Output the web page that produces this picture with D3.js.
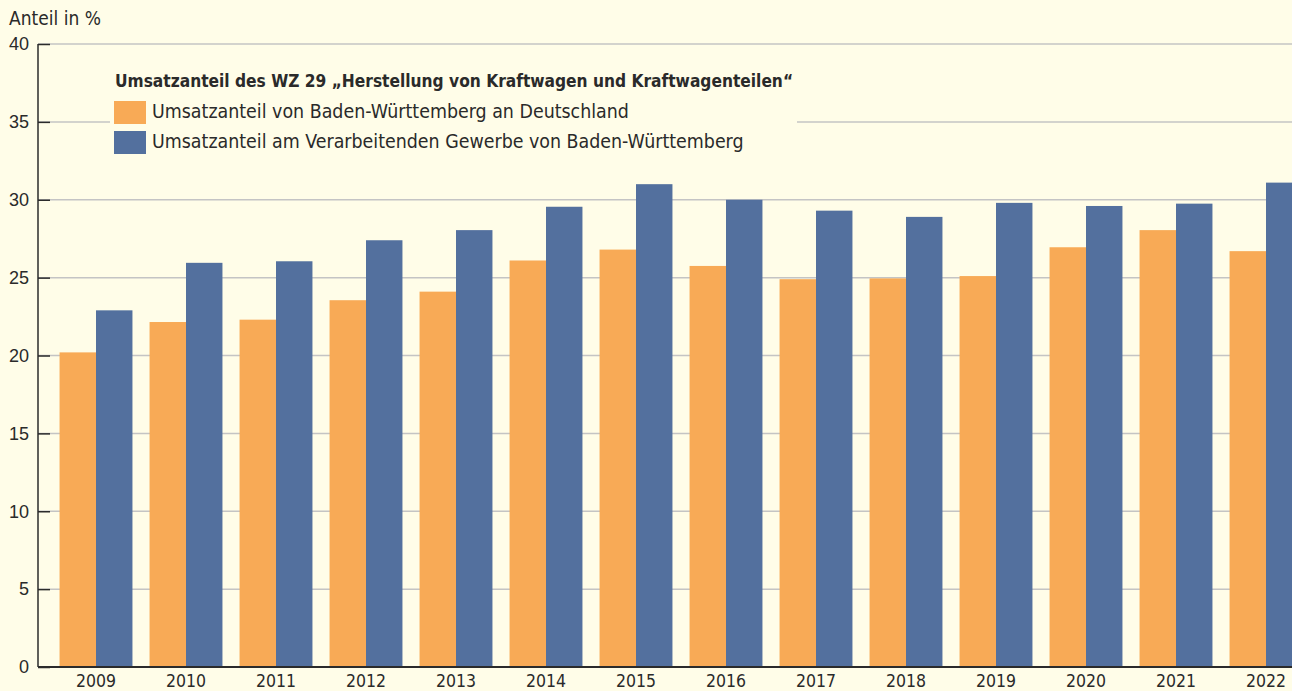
<!DOCTYPE html>
<html>
<head>
<meta charset="utf-8">
<script src="https://cdn.jsdelivr.net/npm/d3@7"></script>
<style>
  body { margin: 0; background: #fffde8; }
  svg { display: block; font-family: "Liberation Sans Narrow", "DejaVu Sans Condensed", sans-serif; }
</style>
</head>
<body>
<script>
const svgWidth = 1292,
    svgHeight = 691;

// data
const years = ["2009", "2010", "2011", "2012", "2013", "2014", "2015", "2016", "2017", "2018", "2019", "2020", "2021", "2022"];
const anteilDeutschland = [20.2, 22.15, 22.3, 23.55, 24.1, 26.1, 26.8, 25.75, 24.9, 24.95, 25.1, 26.95, 28.05, 26.7];
const anteilVerarbeitend = [22.9, 25.95, 26.05, 27.4, 28.05, 29.55, 31.0, 30.0, 29.3, 28.9, 29.8, 29.6, 29.75, 31.1];
const yTicks = [0, 5, 10, 15, 20, 25, 30, 35, 40];
const series = [
    { name: "Umsatzanteil von Baden-Württemberg an Deutschland", values: anteilDeutschland, color: "#f8aa56" },
    { name: "Umsatzanteil am Verarbeitenden Gewerbe von Baden-Württemberg", values: anteilVerarbeitend, color: "#53709e" }
];
const legendTitle = "Umsatzanteil des WZ 29 „Herstellung von Kraftwagen und Kraftwagenteilen“";

const axisX = 38, baseY = 667, topY = 44;

const svg = d3.select("body").append("svg")
    .attr("width", svgWidth)
    .attr("height", svgHeight);

svg.append("rect")
    .attr("width", svgWidth)
    .attr("height", svgHeight)
    .attr("fill", "#fffde8");

const x = d3.scaleBand()
    .domain(years)
    .range([51, 1311])
    .paddingInner(0.19)
    .paddingOuter(0.095);

const xSub = d3.scaleBand()
    .domain(d3.range(series.length))
    .range([0, x.bandwidth()]);

const y = d3.scaleLinear()
    .domain([0, 40])
    .range([baseY, topY]);

// gridlines
svg.append("g")
    .selectAll("line")
    .data(yTicks.filter(d => d > 0))
    .enter().append("line")
    .attr("x1", axisX)
    .attr("x2", svgWidth)
    .attr("y1", d => y(d))
    .attr("y2", d => y(d))
    .attr("stroke", "#c4c4c4")
    .attr("stroke-width", 1.5);

// legend box sits over the gridline at 35
svg.append("rect")
    .attr("x", 110)
    .attr("y", 62)
    .attr("width", 687)
    .attr("height", 98)
    .attr("fill", "#fffde8");

// bars
const groups = svg.append("g")
    .selectAll("g")
    .data(years)
    .enter().append("g")
    .attr("transform", d => "translate(" + x(d) + ",0)");

groups.selectAll("rect")
    .data((d, i) => series.map((s, k) => ({ k: k, v: s.values[i], color: s.color })))
    .enter().append("rect")
    .attr("x", d => xSub(d.k))
    .attr("width", xSub.bandwidth())
    .attr("y", d => y(d.v))
    .attr("height", d => baseY - y(d.v))
    .attr("fill", d => d.color);

// y axis
const yAxis = svg.append("g")
    .attr("transform", "translate(" + axisX + ",0)")
    .call(d3.axisLeft(y).tickValues(yTicks).tickSize(-12).tickPadding(9));

yAxis.select(".domain").remove();
yAxis.selectAll(".tick line").attr("stroke", "#2b2b2b").attr("stroke-width", 1.5);
yAxis.selectAll(".tick text")
    .attr("fill", "#2a2a2a")
    .style("font-size", "18px")
    .style("font-family", null);

svg.append("line")
    .attr("x1", axisX).attr("x2", axisX)
    .attr("y1", topY).attr("y2", baseY)
    .attr("stroke", "#2b2b2b")
    .attr("stroke-width", 1.5);

// x axis
svg.append("line")
    .attr("x1", axisX).attr("x2", svgWidth)
    .attr("y1", baseY).attr("y2", baseY)
    .attr("stroke", "#2b2b2b")
    .attr("stroke-width", 2);

svg.append("g")
    .selectAll("text")
    .data(years)
    .enter().append("text")
    .attr("x", d => x(d) + x.bandwidth() / 2)
    .attr("y", 687)
    .attr("text-anchor", "middle")
    .attr("fill", "#2a2a2a")
    .style("font-size", "17.5px")
    .text(d => d);

// axis title
svg.append("text")
    .attr("x", 9)
    .attr("y", 25)
    .attr("fill", "#2a2a2a")
    .style("font-size", "19px")
    .text("Anteil in %");

// legend
svg.append("text")
    .attr("x", 115)
    .attr("y", 87)
    .attr("fill", "#2a2a2a")
    .style("font-size", "17.2px")
    .style("font-weight", "bold")
    .text(legendTitle);

const legend = svg.append("g")
    .selectAll("g")
    .data(series)
    .enter().append("g")
    .attr("transform", (d, i) => "translate(114," + (101 + i * 30) + ")");

legend.append("rect")
    .attr("width", 32)
    .attr("height", 23)
    .attr("fill", d => d.color);

legend.append("text")
    .attr("x", 38)
    .attr("y", 17)
    .attr("fill", "#2a2a2a")
    .style("font-size", "19.4px")
    .text(d => d.name);
</script>
</body>
</html>
